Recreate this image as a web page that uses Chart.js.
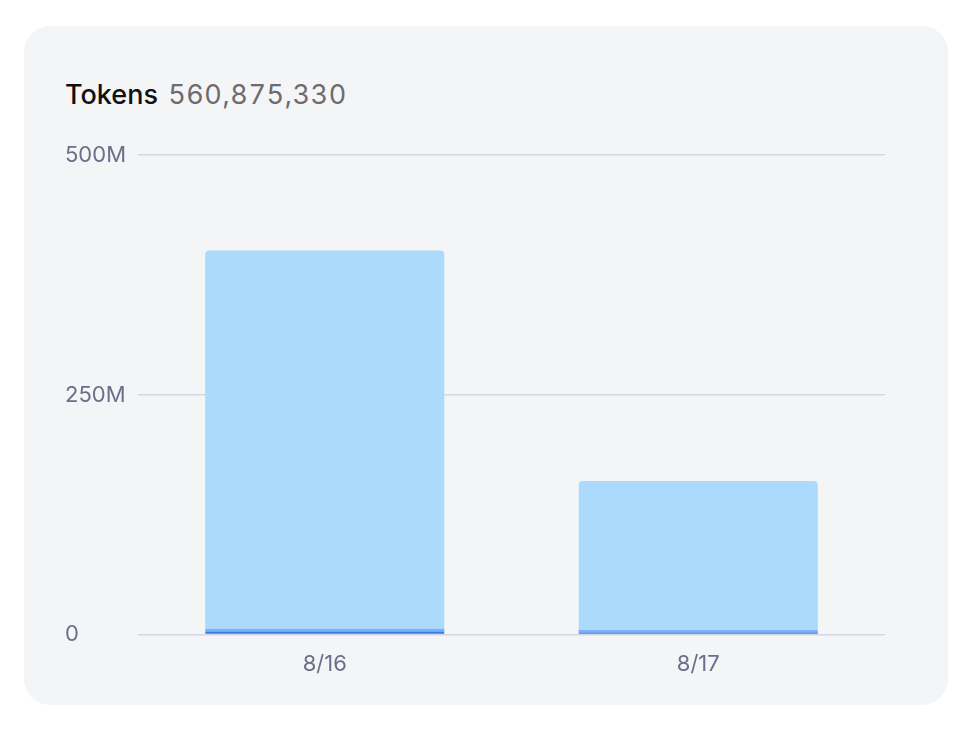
<!DOCTYPE html>
<html>
<head>
<meta charset="utf-8">
<script src="https://cdn.jsdelivr.net/npm/chart.js@4.4.0/dist/chart.umd.min.js"></script>
<style>
  html, body { margin: 0; padding: 0; background: #ffffff; }
  body { width: 972px; height: 730px; position: relative; font-family: Inter, "Noto Sans", sans-serif; }
  .card {
    position: absolute; left: 24px; top: 26px; width: 924px; height: 679px;
    background: #f4f5f7; border-radius: 26px;
  }
  .title {
    position: absolute; left: 41px; top: 51px; font-size: 27px; line-height: 36px;
    color: #111111; font-weight: 500;
  }
  .title span {
    color: #6b6b70; font-weight: 400; margin-left: 3px;
    font-variant-numeric: tabular-nums; letter-spacing: 0.6px;
  }
  .wrap { position: absolute; left: 41px; top: 110px; width: 820px; height: 559px; }
</style>
</head>
<body>
<div class="card">
  <div class="title">Tokens <span id="total"></span></div>
  <div class="wrap"><canvas id="tokenChart"></canvas></div>
</div>
<script>
const days = ['8/16', '8/17'];
const outputTokens = [3.2e6, 2.2e6];
const cachedTokens = [3.0e6, 2.5e6];
const inputTokens = [394.4e6, 155.575330e6];
const yTicks = [0, 250e6, 500e6];

const total = [...outputTokens, ...cachedTokens, ...inputTokens].reduce((a, b) => a + b, 0);
document.getElementById('total').textContent = Math.round(total).toLocaleString('en-US');

function fmtTick(v) {
    if (v === 0) return '0';
    return (v / 1e6) + 'M';
}

const tokenData = {
    labels: days,
    datasets: [{
        label: 'Output',
        data: outputTokens,
        backgroundColor: '#3a78e6',
        borderRadius: 0,
        barPercentage: 0.8,
        categoryPercentage: 0.8
    }, {
        label: 'Cached',
        data: cachedTokens,
        backgroundColor: '#76b3f5',
        borderRadius: 0,
        barPercentage: 0.8,
        categoryPercentage: 0.8
    }, {
        label: 'Input',
        data: inputTokens,
        backgroundColor: '#acdafc',
        borderRadius: { topLeft: 4, topRight: 4 },
        borderSkipped: 'start',
        barPercentage: 0.8,
        categoryPercentage: 0.8
    }]
};

const tokenConfig = {
    type: 'bar',
    data: tokenData,
    options: {
        maintainAspectRatio: false,
        animation: false,
        plugins: { legend: { display: false }, tooltip: { enabled: false } },
        layout: { padding: { top: 10, right: 0 } },
        scales: {
            x: {
                stacked: true,
                grid: { display: false, drawTicks: false },
                border: { display: false },
                ticks: { color: '#6b7088', font: { family: 'Inter', size: 22 }, padding: 17 }
            },
            y: {
                stacked: true,
                min: 0,
                max: 500e6,
                afterBuildTicks: axis => { axis.ticks = yTicks.map(v => ({ value: v })); },
                grid: { color: '#d3d6e4', lineWidth: 1.5, drawTicks: false },
                border: { display: false },
                ticks: {
                    color: '#6b7088',
                    font: { family: 'Inter', size: 22 },
                    padding: 6,
                    crossAlign: 'far',
                    callback: v => fmtTick(v)
                }
            }
        }
    }
};

var tokenChart = new Chart(
    document.getElementById('tokenChart'),
    tokenConfig
);
</script>
</body>
</html>
